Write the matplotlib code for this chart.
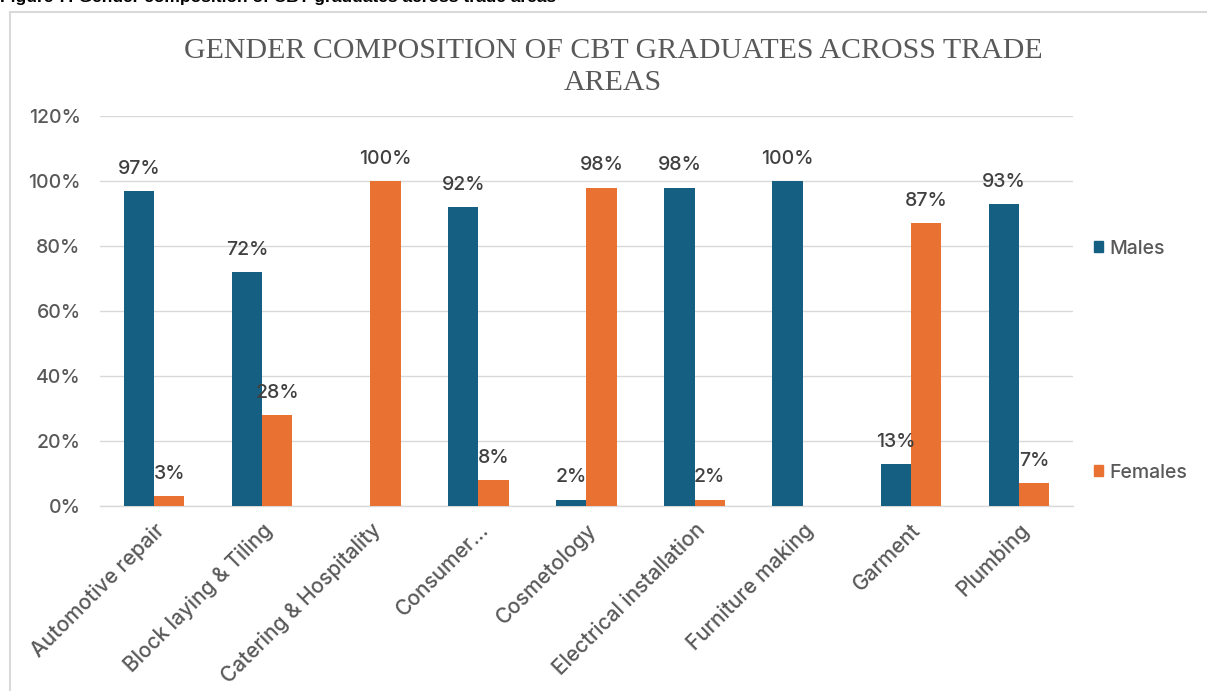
import matplotlib.pyplot as plt
from matplotlib.patches import Rectangle, Patch
import numpy as np

trades = ["Automotive repair", "Block laying & Tiling", "Catering & Hospitality",
          "Consumer...", "Cosmetology", "Electrical installation",
          "Furniture making", "Garment", "Plumbing"]
males = [97, 72, 0, 92, 2, 98, 100, 13, 93]
females = [3, 28, 100, 8, 98, 2, 0, 87, 7]
y_ticks = [0, 20, 40, 60, 80, 100, 120]

BLUE = "#156082"
ORANGE = "#E97132"
GRID = "#d9d9d9"
TXT = "#595959"
FONT = "Inter"

W, H = 1207, 691
fig = plt.figure(figsize=(W / 100, H / 100), dpi=100)

def fx(px):
    return px / W

def fy(py):
    return 1 - py / H

# chart frame, drawn behind everything
frame = Rectangle((fx(10), fy(700)), fx(1300), fy(12) - fy(700),
                  transform=fig.transFigure, facecolor="white",
                  edgecolor=GRID, lw=1.5, zorder=-10)
fig.patches.append(frame)

# caption above the frame
fig.text(fx(0), fy(2), "Figure 7: Gender composition of CBT graduates across trade areas",
         fontsize=12.5, fontweight="bold", family="Liberation Sans",
         ha="left", va="baseline", color="black")

ax = fig.add_axes([fx(100), fy(506), fx(1073) - fx(100), fy(116) - fy(506)], zorder=2)
ax.set_facecolor("none")

x = np.arange(len(trades))
bw = 0.28
b1 = ax.bar(x - bw / 2, males, bw, color=BLUE, label="Males", zorder=3)
b2 = ax.bar(x + bw / 2, females, bw, color=ORANGE, label="Females", zorder=3)

for bars, vals in ((b1, males), (b2, females)):
    for rect, v in zip(bars, vals):
        if v == 0:
            continue
        ax.annotate(f"{v}%", (rect.get_x() + rect.get_width() / 2, v),
                    xytext=(0, 16), textcoords="offset points",
                    ha="center", va="center", fontsize=14, color="#404040",
                    family=FONT, fontweight="medium", zorder=4)

ax.set_xlim(-0.5, len(trades) - 0.5)
ax.set_ylim(0, 120)
ax.set_yticks(y_ticks)
ax.set_yticklabels([f"{t}%" for t in y_ticks], fontsize=14, color=TXT, family=FONT,
                   fontweight="medium")
ax.set_xticks(x)
ax.set_xticklabels(trades, rotation=45, ha="right", va="top", rotation_mode="anchor",
                   fontsize=15, color=TXT, family=FONT, fontweight="medium")
ax.tick_params(axis="both", length=0)
ax.tick_params(axis="y", pad=14)
ax.tick_params(axis="x", pad=10)
ax.grid(axis="y", color=GRID, lw=1, zorder=0)
for side in ("top", "right", "left"):
    ax.spines[side].set_visible(False)
ax.spines["bottom"].set_color(GRID)
ax.spines["bottom"].set_linewidth(1)

fig.text(fx(613), fy(90), "GENDER COMPOSITION OF CBT GRADUATES ACROSS TRADE\nAREAS",
         ha="center", va="baseline", fontsize=21.5, family="Liberation Serif",
         color=TXT, linespacing=1.3)

handles = [Patch(color=BLUE, label="Males"), Patch(color=ORANGE, label="Females")]
fig.legend(handles=handles, loc="upper left", bbox_to_anchor=(fx(1076), fy(222)),
           frameon=False, labelspacing=10.6, handlelength=0.5,
           handleheight=0.5, handletextpad=0.3, labelcolor=TXT,
           prop={"family": FONT, "size": 14, "weight": "medium"})

fig.savefig("out.png", dpi=100)
